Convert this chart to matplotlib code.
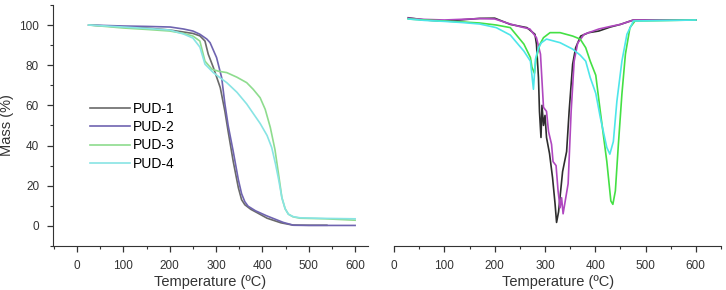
import matplotlib.pyplot as plt
from matplotlib.ticker import MultipleLocator

plt.rcParams['font.family'] = ['Liberation Sans', 'DejaVu Sans']

labels = ["PUD-1", "PUD-2", "PUD-3", "PUD-4"]

# TGA: mass (%) vs temperature (ºC)
tga_t1 = [25, 100, 150, 200, 230, 250, 265, 276, 283, 294, 309, 319, 326, 337, 348, 355, 362, 375, 388, 410, 440, 465, 500, 539]
tga_m1 = [100, 99, 98.5, 97.5, 96.5, 95.8, 94.6, 92, 85.5, 78.9, 68.8, 57, 47, 32, 19, 13, 10.5, 8.2, 6.6, 3.8, 1.5, 0.4, 0.3, 0.3]
tga_t2 = [25, 100, 150, 201, 230, 250, 265, 280, 287, 301, 312, 319, 326, 337, 348, 355, 362, 369, 385, 409, 445, 467, 500, 600]
tga_m2 = [100, 99.5, 99.3, 99, 98, 97, 95.4, 93, 91.2, 83.8, 73.8, 60.7, 50, 37, 23, 16, 12, 9.8, 7.5, 5, 1.7, 0.3, 0.2, 0.2]
tga_t3 = [25, 100, 150, 200, 230, 250, 265, 276, 291, 305, 323, 345, 366, 380, 395, 406, 417, 427, 434, 442, 449, 456, 466, 481, 536, 600]
tga_m3 = [100, 98.5, 97.8, 97, 95.8, 94.5, 92, 82, 78, 77, 76.3, 74, 71.3, 68, 63.8, 58, 49, 38, 27, 14, 8.5, 5.8, 4.5, 3.8, 3.5, 2.8]
tga_t4 = [25, 100, 150, 200, 230, 250, 265, 276, 294, 310, 323, 345, 366, 380, 395, 410, 420, 428, 435, 442, 449, 456, 466, 481, 536, 600]
tga_m4 = [100, 99, 98.3, 97.5, 95.5, 93.5, 89, 80.5, 76.3, 73.5, 71.3, 66.5, 60.7, 56, 51, 45, 39, 31, 23, 14, 8.5, 5.8, 4.6, 4, 3.7, 3.5]

# DTG curves (same vertical scale as the TGA panel, no axis shown)
dtg_t1 = [28, 60, 100, 130, 170, 200, 231, 264, 280, 283, 287, 289, 292, 294, 297, 300, 303, 309, 315, 320, 323, 327, 335, 343, 348, 355, 361, 371, 387, 407, 430, 450, 476, 600]
dtg_m1 = [103.6, 102.5, 102, 102.5, 103.3, 103.4, 100.3, 98.7, 95.4, 90.5, 73.8, 57, 44, 60, 50, 55, 44, 36, 24, 11, 1.7, 7, 27, 37, 57, 80.5, 88.7, 94.5, 96.2, 97, 99, 100.3, 102.5, 102.5]
dtg_t2 = [28, 60, 100, 130, 170, 200, 231, 250, 270, 283, 291, 297, 303, 307, 313, 316, 322, 326, 330, 333, 336, 340, 346, 352, 358, 365, 378, 407, 430, 450, 476, 600]
dtg_m2 = [103.4, 102.8, 102.5, 102.8, 103.2, 103, 100.5, 99.2, 98, 93.7, 85.5, 59, 57, 47, 40.6, 32, 30, 17.4, 9, 14, 6, 12, 21, 57, 82, 91, 95.4, 98, 99.3, 100.3, 102.5, 102.5]
dtg_t3 = [28, 60, 100, 137, 170, 203, 231, 258, 271, 274, 279, 282, 290, 297, 310, 330, 355, 370, 381, 390, 401, 410, 423, 431, 435, 440, 446, 453, 460, 469, 479, 600]
dtg_m3 = [103, 102.5, 102, 101.5, 101, 100, 98.7, 90.5, 83.8, 79, 76, 83, 90.5, 93.7, 96.2, 96.2, 94.5, 93, 88.7, 82, 75, 57, 32, 12.4, 10.7, 17.4, 40.6, 65.6, 85.5, 98.7, 102, 102.5]
dtg_t4 = [28, 60, 100, 137, 170, 203, 231, 258, 271, 277, 281, 287, 293, 303, 330, 355, 370, 381, 390, 401, 410, 423, 429, 436, 443, 453, 463, 476, 600]
dtg_m4 = [103, 102.3, 101.8, 101.2, 100.5, 98.7, 95, 87, 82, 68, 83, 88.7, 91.2, 93, 91.2, 88, 85, 82, 73.8, 66, 54, 39, 35.7, 42, 62, 82, 95.4, 102, 102.5]

tga_colors = ["#6a6a6a", "#6f64b0", "#8edc8e", "#88e4e4"]
dtg_colors = ["#2e2e2e", "#b048c0", "#44e044", "#4ee6ea"]

fig = plt.figure(figsize=(7.26, 2.9), dpi=100)
ax1 = fig.add_axes([0.073, 0.152, 0.434, 0.831])
ax2 = fig.add_axes([0.543, 0.152, 0.450, 0.831])

tga = [(tga_t1, tga_m1), (tga_t2, tga_m2), (tga_t3, tga_m3), (tga_t4, tga_m4)]
for (t, m), c, lab in zip(tga, tga_colors, labels):
    ax1.plot(t, m, color=c, lw=1.2, label=lab)

dtg = [(dtg_t1, dtg_m1), (dtg_t2, dtg_m2), (dtg_t3, dtg_m3), (dtg_t4, dtg_m4)]
for (t, m), c in zip(dtg, dtg_colors):
    ax2.plot(t, m, color=c, lw=1.2)

axis_col = "#333333"
for ax in (ax1, ax2):
    ax.spines['top'].set_visible(False)
    ax.spines['right'].set_visible(False)
    ax.spines['bottom'].set_color(axis_col)
    ax.spines['left'].set_color(axis_col)
    ax.xaxis.set_major_locator(MultipleLocator(100))
    ax.xaxis.set_minor_locator(MultipleLocator(50))
    ax.tick_params(which='major', direction='out', length=4, width=0.9, colors=axis_col, labelsize=8.5, pad=6)
    ax.tick_params(which='minor', direction='out', length=2.5, width=0.8, colors=axis_col)
    ax.set_xlabel("Temperature (ºC)", fontsize=10.5, color="#333333", labelpad=2)
    ax.set_ylim(-10, 110)

ax1.set_xlim(-52, 628)
ax1.yaxis.set_major_locator(MultipleLocator(20))
ax1.yaxis.set_minor_locator(MultipleLocator(10))
ax1.set_ylabel("Mass (%)", fontsize=10.5, color="#333333", labelpad=4)
ax1.legend(loc='upper left', bbox_to_anchor=(0.1, 0.62), frameon=False, fontsize=10,
           handlelength=2.9, handletextpad=0.2, labelspacing=0.3, borderaxespad=0)

ax2.set_xlim(0, 650)
ax2.spines['left'].set_visible(False)
ax2.set_yticks([])

fig.savefig("out.png", dpi=100)
